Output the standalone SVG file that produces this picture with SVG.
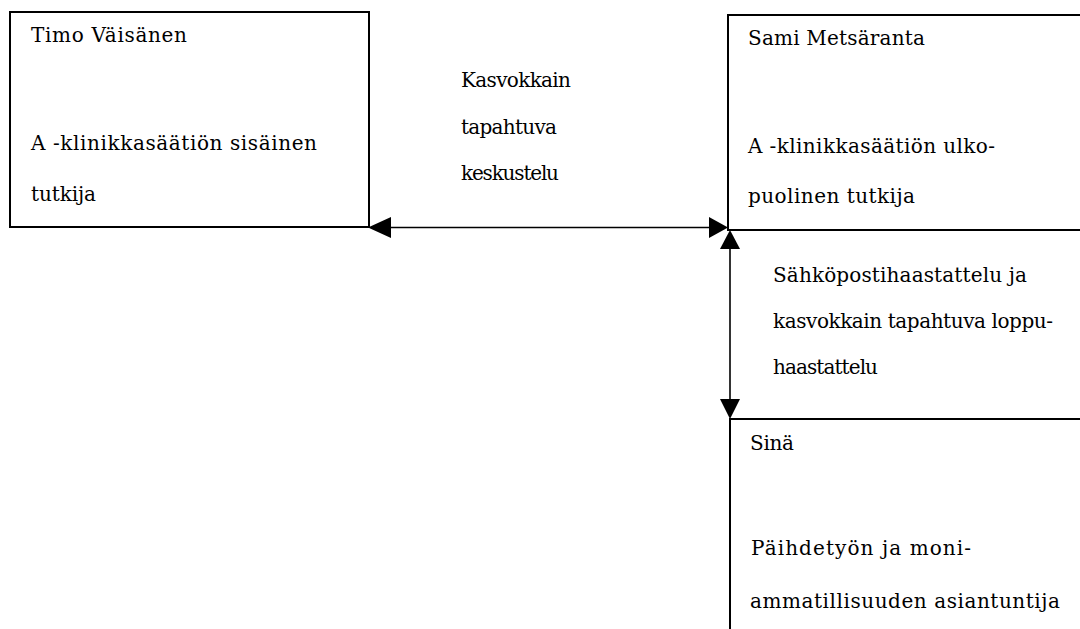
<svg xmlns="http://www.w3.org/2000/svg" width="1080" height="629" viewBox="0 0 1080 629">
<style>
.box{fill:#fff;stroke:#000;stroke-width:2}
.t{font-family:"DejaVu Serif",serif;font-size:20px;fill:#000}
.ln{stroke:#000;stroke-width:1.6;fill:none}
.ah{fill:#000}
</style>
<rect width="1080" height="629" fill="#fff"/>
<g id="node-timo">
<rect class="box" x="10" y="12" width="359" height="215"/>
<text class="t" x="31" y="42" textLength="156" lengthAdjust="spacing">Timo Väisänen</text>
<text class="t" x="31" y="150" textLength="286" lengthAdjust="spacing">A -klinikkasäätiön sisäinen</text>
<text class="t" x="31" y="201" textLength="65" lengthAdjust="spacing">tutkija</text>
</g>
<g id="node-sami">
<rect class="box" x="728" y="15" width="360" height="215"/>
<text class="t" x="748" y="45" textLength="177" lengthAdjust="spacing">Sami Metsäranta</text>
<text class="t" x="748" y="153" textLength="247" lengthAdjust="spacing">A -klinikkasäätiön ulko-</text>
<text class="t" x="748" y="203" textLength="167" lengthAdjust="spacing">puolinen tutkija</text>
</g>
<g id="node-sina">
<rect class="box" x="730" y="419" width="360" height="220"/>
<text class="t" x="750" y="450" textLength="44" lengthAdjust="spacing">Sinä</text>
<text class="t" x="751" y="555" textLength="220" lengthAdjust="spacing">Päihdetyön ja moni-</text>
<text class="t" x="750" y="608" textLength="310" lengthAdjust="spacing">ammatillisuuden asiantuntija</text>
</g>
<g id="connectors">
<line class="ln" x1="385" y1="227.5" x2="712" y2="227.5"/>
<polygon class="ah" points="368,227.5 391,217 391,238"/>
<polygon class="ah" points="728,227.5 709,217 709,238"/>
<line class="ln" x1="730" y1="244" x2="730" y2="402"/>
<polygon class="ah" points="730,230 720,249 740,249"/>
<polygon class="ah" points="730,419 720,399 740,399"/>
</g>
<g id="labels">
<text class="t" x="461" y="87" textLength="110" lengthAdjust="spacing">Kasvokkain</text>
<text class="t" x="461" y="134" textLength="96" lengthAdjust="spacing">tapahtuva</text>
<text class="t" x="461" y="180" textLength="98" lengthAdjust="spacing">keskustelu</text>
<text class="t" x="773" y="282" textLength="254" lengthAdjust="spacing">Sähköpostihaastattelu ja</text>
<text class="t" x="773" y="328" textLength="280" lengthAdjust="spacing">kasvokkain tapahtuva loppu-</text>
<text class="t" x="773" y="374" textLength="105" lengthAdjust="spacing">haastattelu</text>
</g>
</svg>
